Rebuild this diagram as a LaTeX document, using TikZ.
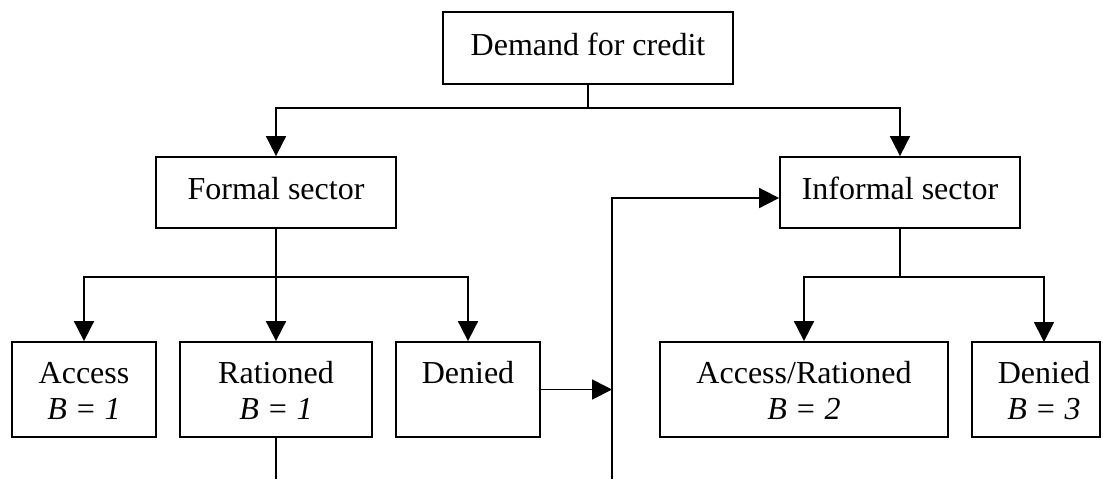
\documentclass[tikz,border=0pt]{standalone}
\usepackage{fontspec}
\setmainfont{Liberation Serif}
\usetikzlibrary{arrows.meta,calc}
\begin{document}
\begin{tikzpicture}[x=0.5pt,y=-0.5pt,
  box/.style={draw,line width=0.9pt,rectangle,inner sep=0pt},
  txt/.style={anchor=base,inner sep=0pt,font=\fontsize{16}{19}\selectfont},
  conn/.style={line width=0.9pt},
  arr/.style={line width=0.9pt,-{Triangle[length=10pt,width=10pt]}}]
\useasboundingbox (0,0) rectangle (1103,479);
% boxes
\node[box,minimum width=290*0.5pt,minimum height=72*0.5pt] (dem) at (588,48) {};
\node[box,minimum width=240*0.5pt,minimum height=71*0.5pt] (formal) at (276,192.5) {};
\node[box,minimum width=240*0.5pt,minimum height=71*0.5pt] (informal) at (900,192.5) {};
\node[box,minimum width=144*0.5pt,minimum height=95*0.5pt] (acc) at (84,389.5) {};
\node[box,minimum width=192*0.5pt,minimum height=95*0.5pt] (rat) at (276,389.5) {};
\node[box,minimum width=144*0.5pt,minimum height=95*0.5pt] (den) at (468,389.5) {};
\node[box,minimum width=288*0.5pt,minimum height=95*0.5pt] (ar) at (804,389.5) {};
\node[box,minimum width=128*0.5pt,minimum height=95*0.5pt] (den2) at (1036,389.5) {};
% texts
\node[txt] (tdem) at (588,55) {Demand for credit};
\node[txt] (tformal) at (276,199) {Formal sector};
\node[txt] (tinformal) at (900,199) {Informal sector};
\node[txt] (tacc) at (84,383) {Access};
\node[txt] (tacc2) at (84,419) {\textit{B = 1}};
\node[txt] (trat) at (276,383) {Rationed};
\node[txt] (trat2) at (276,419) {\textit{B = 1}};
\node[txt] (tden) at (468,383) {Denied};
\node[txt] (tar) at (804,383) {Access/Rationed};
\node[txt] (tar2) at (804,419) {\textit{B = 2}};
\node[txt] (tden2) at (1044,383) {Denied};
\node[txt] (tden22) at (1044,419) {\textit{B = 3}};
% junction coordinates
\coordinate (j1) at (588,108);
\coordinate (j2) at (276,277);
\coordinate (j3) at (900,277);
\coordinate (d2top) at (1044,342);
\coordinate (vbot) at (612,479);
\coordinate (vtop) at (612,198);
\coordinate (vmid) at (612,389.5);
\coordinate (rbot) at (276,479);
% connectors
\draw[conn] (dem.south) -- (j1);
\draw[arr] (j1) -| (formal.north);
\draw[arr] (j1) -| (informal.north);
\draw[conn] (formal.south) -- (j2);
\draw[arr] (j2) -| (acc.north);
\draw[arr] (j2) -- (rat.north);
\draw[arr] (j2) -| (den.north);
\draw[conn] (informal.south) -- (j3);
\draw[arr] (j3) -| (ar.north);
\draw[arr] (j3) -| (d2top);
\draw[arr] (den.east) -- (vmid);
\draw[arr] (vbot) -- (vtop) -- (vtop -| informal.west);
\draw[conn] (rat.south) -- (rbot);
\end{tikzpicture}
\end{document}
